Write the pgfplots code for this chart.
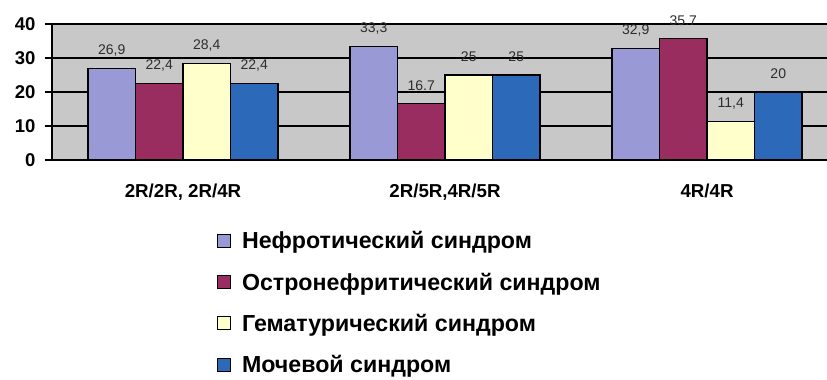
\documentclass[border=0pt]{standalone}
\usepackage{pgfplots}
\pgfplotsset{compat=1.18}
\usepackage{pgfplotstable}
\usepackage{fontspec}
\setmainfont{Liberation Sans}
\newcommand\legfont{\bfseries\fontsize{23.2}{26}\selectfont}
\newcommand\catfont{\bfseries\fontsize{18.7}{21}\selectfont}
\newcommand\yfont{\bfseries\fontsize{18.5}{21}\selectfont}
\newcommand\valfont{\fontsize{14}{16}\selectfont}
\definecolor{cA}{RGB}{153,153,214}
\definecolor{cB}{RGB}{153,45,95}
\definecolor{cC}{RGB}{255,255,204}
\definecolor{cD}{RGB}{45,105,185}
\definecolor{bg}{RGB}{200,200,200}
\definecolor{lab}{RGB}{45,45,45}
\pgfplotstableread{
x y lab
0 26.9 26,9
1 33.3 33,3
2 32.9 32,9
}\tA
\pgfplotstableread{
x y lab
0 22.4 22,4
1 16.7 16.7
2 35.7 35.7
}\tB
\pgfplotstableread{
x y lab
0 28.4 28,4
1 25 25
2 11.4 11,4
}\tC
\pgfplotstableread{
x y lab
0 22.4 22,4
1 25 25
2 20 20
}\tD
\begin{document}
\begin{tikzpicture}[x=1pt,y=1pt]
\useasboundingbox (-52,-220) rectangle (775,160);
\begin{axis}[
  at={(0,0)}, anchor=south west,
  scale only axis, width=775pt, height=136pt,
  xmin=-0.5, xmax=2.458, ymin=0, ymax=40,
  clip=false,
  axis background/.style={fill=bg},
  axis x line*=bottom, axis y line*=left,
  axis line style={-, line width=1.2pt, black},
  ybar=0pt, bar width=47.5pt,
  xtick={0,1,2}, xticklabels={2R/2R{,} 2R/4R, 2R/5R{,}4R/5R, 4R/4R},
  x tick style={draw=none},
  extra x ticks={0.5,1.5}, extra x tick labels={},
  extra x tick style={tick style={draw=black, line width=1pt}, major tick length=5pt, tick align=outside},
  xticklabel style={font=\catfont, yshift=-13pt},
  ytick={0,10,20,30,40},
  yticklabel style={font=\yfont, xshift=-6pt},
  y tick style={draw=black, line width=1.2pt},
  major tick length=7pt, tick align=outside,
  ymajorgrids, grid style={black, line width=1.2pt},
  /pgf/number format/assume math mode=true,
  nodes near coords,
  point meta=explicit symbolic,
  every node near coord/.append style={font=\valfont, text=lab, anchor=center, inner sep=0pt, yshift=18pt},
  legend style={at={(0.212,-0.51)}, anchor=north west, draw=none, fill=none,
    font=\legfont, row sep=18.5pt, inner sep=0pt,
    cells={anchor=west, font=\legfont}},
  legend image code/.code={\draw[#1, draw=black, line width=1pt] (0pt,-6.5pt) rectangle (13pt,6.5pt); \path[draw=none,fill=none] (0pt,0pt) -- (23pt,0pt);},
]
\addplot[fill=cA, draw=black, line width=1.2pt] table[x=x,y=y,meta=lab]{\tA};
\addplot[fill=cB, draw=black, line width=1.2pt] table[x=x,y=y,meta=lab]{\tB};
\addplot[fill=cC, draw=black, line width=1.2pt] table[x=x,y=y,meta=lab]{\tC};
\addplot[fill=cD, draw=black, line width=1.2pt] table[x=x,y=y,meta=lab]{\tD};
\legend{Нефротический синдром, Остронефритический синдром, Гематурический синдром, Мочевой синдром}
\end{axis}
\end{tikzpicture}
\end{document}
